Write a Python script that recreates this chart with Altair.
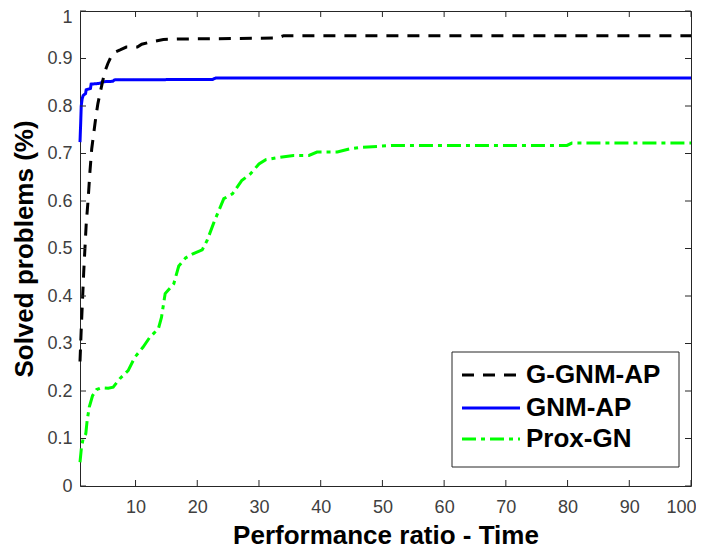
import altair as alt
import pandas as pd

# ---- data ----
series_names = ["G-GNM-AP", "GNM-AP", "Prox-GN"]
series_colors = ["#000000", "#0000ff", "#00ff00"]
series_dashes = [[12, 9], [1, 0], [14, 5, 4, 5]]

ggnm_x = [1.0, 1.2, 1.4, 1.6, 1.8, 2.0, 2.3, 2.6, 2.9, 3.2, 3.6, 3.9, 4.3, 4.7, 5.1, 5.5,
          6.0, 6.6, 7.5, 8.5, 10.3, 11.0, 12.5, 14.5, 17.0, 33.0, 34.0, 100.0]
ggnm_y = [0.262, 0.33, 0.39, 0.45, 0.50, 0.55, 0.60, 0.66, 0.71, 0.74, 0.78, 0.805, 0.83,
          0.854, 0.875, 0.889, 0.903, 0.913, 0.918, 0.924, 0.924, 0.930, 0.935, 0.940,
          0.941, 0.943, 0.948, 0.948]

gnm_x = [1.0, 1.1, 1.2, 1.35, 1.5, 1.9, 2.0, 2.7, 2.8, 4.4, 4.6, 6.3, 6.6, 22.5, 23.0, 100.0]
gnm_y = [0.724, 0.76, 0.80, 0.815, 0.822, 0.826, 0.834, 0.837, 0.846, 0.848, 0.851, 0.852,
         0.855, 0.856, 0.859, 0.859]

prox_x = [1.0, 1.24, 1.5, 1.94, 2.16, 2.5, 3.03, 3.68, 4.5, 5.57, 6.38, 7.45, 8.8, 9.88,
          11.2, 12.3, 13.7, 14.2, 14.8, 16.2, 17.0, 18.1, 19.2, 20.8, 21.6, 22.7, 24.3,
          25.7, 27.2, 28.6, 30.0, 31.1, 32.9, 35.6, 38.1, 39.4, 42.7, 44.8, 46.5, 51.8,
          79.9, 80.7, 100.0]
prox_y = [0.050, 0.082, 0.099, 0.110, 0.138, 0.166, 0.190, 0.203, 0.207, 0.206, 0.208,
          0.226, 0.243, 0.271, 0.292, 0.313, 0.331, 0.355, 0.405, 0.426, 0.463, 0.480,
          0.488, 0.497, 0.517, 0.555, 0.605, 0.615, 0.643, 0.657, 0.678, 0.687, 0.691,
          0.696, 0.696, 0.703, 0.703, 0.710, 0.713, 0.717, 0.717, 0.722, 0.722]

x_ticks = [10, 20, 30, 40, 50, 60, 70, 80, 90, 100]
y_ticks = [0, 0.1, 0.2, 0.3, 0.4, 0.5, 0.6, 0.7, 0.8, 0.9, 1.0]

x_title = "Performance ratio - Time"
y_title = "Solved problems (%)"

# ---- layout ----
W, H = 611, 475
FONT = "Liberation Sans"
AXC = "#262626"


def X(field="x"):
    return alt.X(f"{field}:Q",
                 scale=alt.Scale(domain=[1, 100], nice=False, zero=False),
                 axis=alt.Axis(values=x_ticks, title=x_title, tickSize=0, domain=False,
                               grid=False, labelPadding=12, titlePadding=6,
                               labelOffset={"condition": {"test": "datum.value == 100", "value": -10}, "value": 0},
                               labelFontSize=18, labelColor="#404040", labelFont=FONT,
                               titleFont=FONT, titleFontSize=26, titleFontWeight="bold",
                               titleColor="#000000", labelFlush=False))


def Y(field="y"):
    return alt.Y(f"{field}:Q",
                 scale=alt.Scale(domain=[0, 1], nice=False, zero=False),
                 axis=alt.Axis(values=y_ticks, title=y_title, tickSize=0, domain=False,
                               grid=False, labelPadding=8, titlePadding=9, format=".1~f",
                               labelOffset={"condition": {"test": "datum.value == 1", "value": 6}, "value": 0},
                               labelFontSize=18, labelColor="#404040", labelFont=FONT,
                               titleFont=FONT, titleFontSize=26, titleFontWeight="bold",
                               titleColor="#000000", labelFlush=False))


layers = []
all_x = [ggnm_x, gnm_x, prox_x]
all_y = [ggnm_y, gnm_y, prox_y]
# draw order: green, blue, black on top
for k in [2, 1, 0]:
    df = pd.DataFrame({"x": all_x[k], "y": all_y[k], "i": list(range(len(all_x[k])))})
    layers.append(
        alt.Chart(df).mark_line(color=series_colors[k], strokeDash=series_dashes[k],
                                strokeWidth=3, strokeCap="butt")
        .encode(x=X(), y=Y(), order=alt.Order("i:Q"))
    )

# inward ticks (MATLAB box style)
xt = pd.DataFrame({"x": x_ticks})
yt = pd.DataFrame({"y": y_ticks})
layers.append(alt.Chart(xt).mark_rule(color=AXC, strokeWidth=1)
              .encode(x=X(), y=alt.value(H), y2=alt.value(H - 6)))
layers.append(alt.Chart(xt).mark_rule(color=AXC, strokeWidth=1)
              .encode(x=X(), y=alt.value(0), y2=alt.value(6)))
layers.append(alt.Chart(yt).mark_rule(color=AXC, strokeWidth=1)
              .encode(y=Y(), x=alt.value(0), x2=alt.value(6)))
layers.append(alt.Chart(yt).mark_rule(color=AXC, strokeWidth=1)
              .encode(y=Y(), x=alt.value(W), x2=alt.value(W - 6)))

# legend (manual, MATLAB style)
one = pd.DataFrame({"a": [0]})
LX0, LX1, LY0, LY1 = 372, 599, 341, 456
layers.append(alt.Chart(one).mark_rect(fill="white", stroke=AXC, strokeWidth=1)
              .encode(x=alt.value(LX0), x2=alt.value(LX1), y=alt.value(LY0), y2=alt.value(LY1)))
row_y = [364, 397, 428]
for k in range(3):
    layers.append(alt.Chart(one).mark_rule(color=series_colors[k], strokeDash=series_dashes[k],
                                           strokeWidth=3, strokeCap="butt")
                  .encode(x=alt.value(382), x2=alt.value(440), y=alt.value(row_y[k])))
    layers.append(alt.Chart(one).mark_text(align="left", baseline="middle", font=FONT,
                                           fontSize=26, fontWeight="bold", color="#000000")
                  .encode(x=alt.value(446), y=alt.value(row_y[k]), text=alt.value(series_names[k])))

chart = alt.layer(*layers).properties(
    width=W, height=H,
    autosize=alt.AutoSizeParams(type="none"),
    padding={"left": 72, "top": 3, "right": 5, "bottom": 62},
    background="white",
).configure_view(stroke=AXC, strokeWidth=1)

chart.save("out.html", embed_options={"renderer": "svg", "actions": False})
